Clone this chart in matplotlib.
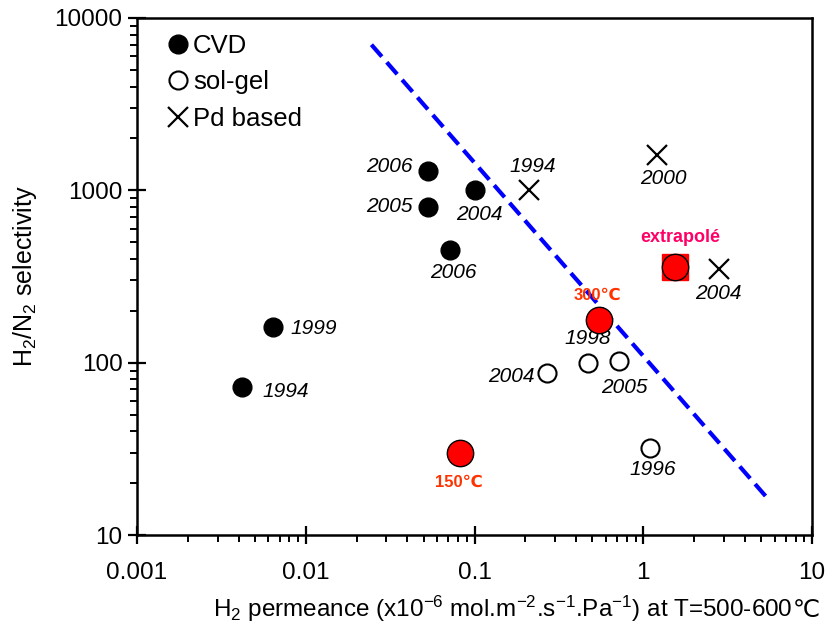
import matplotlib
matplotlib.use("Agg")
import matplotlib.pyplot as plt

plt.rcParams['font.family'] = ['Liberation Sans', 'DejaVu Sans']
plt.rcParams['mathtext.fontset'] = 'custom'
plt.rcParams['mathtext.rm'] = 'Liberation Sans'
plt.rcParams['mathtext.it'] = 'Liberation Sans:italic'
plt.rcParams['mathtext.default'] = 'regular'

# donnees
cvd_x = [0.053, 0.053, 0.1, 0.072, 0.0064, 0.0042]
cvd_y = [1300, 800, 1000, 450, 160, 72]
cvd_years = ['2006', '2005', '2004', '2006', '1999', '1994']

solgel_x = [0.27, 0.47, 0.72, 1.1]
solgel_y = [87, 100, 102, 32]
solgel_years = ['2004', '1998', '2005', '1996']

pd_x = [0.21, 1.2, 2.8]
pd_y = [1000, 1600, 350]
pd_years = ['1994', '2000', '2004']

ours_x = [0.082, 0.55, 1.55]
ours_y = [30, 178, 360]
ours_labels = ['150℃', '300℃', 'extrapolé']

limit_x = [0.0245, 5.4]
limit_y = [7000, 16.5]

# decalage des etiquettes (pixels)
cvd_off = [(-15, 4, 'right'), (-15, 1, 'right'), (5, -24, 'center'),
           (3, -22, 'center'), (17, -1, 'left'), (20, -4, 'left')]
solgel_off = [(-13, -3, 'right'), (0, 24, 'center'), (5, -26, 'center'),
              (2, -22, 'center')]
pd_off = [(4, 24, 'center'), (7, -23, 'center'), (0, -25, 'center')]
ours_off = [(-1, -30), (-2, 24), (5, 29)]
ours_col = ['#FF3300', '#FF3300', '#FF0066']
ours_fs = [12, 12, 13]

fig = plt.figure(figsize=(8.32, 6.31), dpi=100)
ax = fig.add_axes([137/832, 1-535/631, (812-137)/832, (535-18)/631])

ax.plot(limit_x, limit_y, color='#0000FF', lw=3, dashes=(3.8, 1.8),
        dash_capstyle='butt', zorder=2)

ax.plot(cvd_x, cvd_y, 'o', color='black', ms=13.5, ls='none', label='CVD', zorder=3)
ax.plot(solgel_x, solgel_y, 'o', mfc='white', mec='black', mew=1.5, ms=13,
        ls='none', label='sol-gel', zorder=3)
ax.plot(pd_x, pd_y, 'x', color='black', ms=15, mew=1.6, ls='none',
        label='Pd based', zorder=3)

ax.plot(ours_x[2:], ours_y[2:], 's', color='#FF0000', ms=18.5, ls='none', zorder=3)
ax.plot(ours_x, ours_y, 'o', mfc='#FF0000', mec='black', mew=1, ms=19,
        ls='none', zorder=4)

for xs, ys, yrs, offs in [(cvd_x, cvd_y, cvd_years, cvd_off),
                         (solgel_x, solgel_y, solgel_years, solgel_off),
                         (pd_x, pd_y, pd_years, pd_off)]:
    for x, y, t, (dx, dy, ha) in zip(xs, ys, yrs, offs):
        ax.annotate(t, (x, y), xytext=(dx, dy), textcoords='offset pixels',
                    ha=ha, va='center', fontsize=15, style='italic')

for x, y, t, (dx, dy), c, fs in zip(ours_x, ours_y, ours_labels, ours_off, ours_col, ours_fs):
    ax.annotate(t, (x, y), xytext=(dx, dy), textcoords='offset pixels',
                ha='center', va='center', fontsize=fs, fontweight='bold', color=c)

ax.set_xscale('log')
ax.set_yscale('log')
ax.set_xlim(0.001, 10)
ax.set_ylim(10, 10000)
ax.set_xticks([0.001, 0.01, 0.1, 1, 10])
ax.set_xticklabels(['0.001', '0.01', '0.1', '1', '10'])
ax.set_yticks([10, 100, 1000, 10000])
ax.set_yticklabels(['10', '100', '1000', '10000'])

for s in ax.spines.values():
    s.set_linewidth(1.8)
ax.tick_params(which='major', direction='inout', length=13, width=1.6)
ax.tick_params(which='minor', direction='out', length=5, width=1.4)
ax.tick_params(axis='x', which='major', labelsize=17.5, pad=13)
ax.tick_params(axis='y', which='major', labelsize=17.5, pad=4)

# titre de l'axe x en deux morceaux (le signe ℃ n'existe pas en mathtext)
xlab_y = 1 - 617/631
fig.text(793/832, xlab_y,
         'H$_2$ permeance (x10$^{-6}$ mol.m$^{-2}$.s$^{-1}$.Pa$^{-1}$) at T=500-600',
         ha='right', va='baseline', fontsize=17.5)
fig.text(793/832, xlab_y, '℃', ha='left', va='baseline', fontsize=17.5)

ax.set_ylabel('H$_2$/N$_2$ selectivity', fontsize=18)
ax.yaxis.set_label_coords(-(137-39)/675, 0.5)

ax.legend(loc='upper left', bbox_to_anchor=(0.030, 0.989), frameon=False, fontsize=18.5,
          handlelength=0.8, handletextpad=0.2, labelspacing=0.48, borderaxespad=0)

fig.savefig('out.png', dpi=100)
